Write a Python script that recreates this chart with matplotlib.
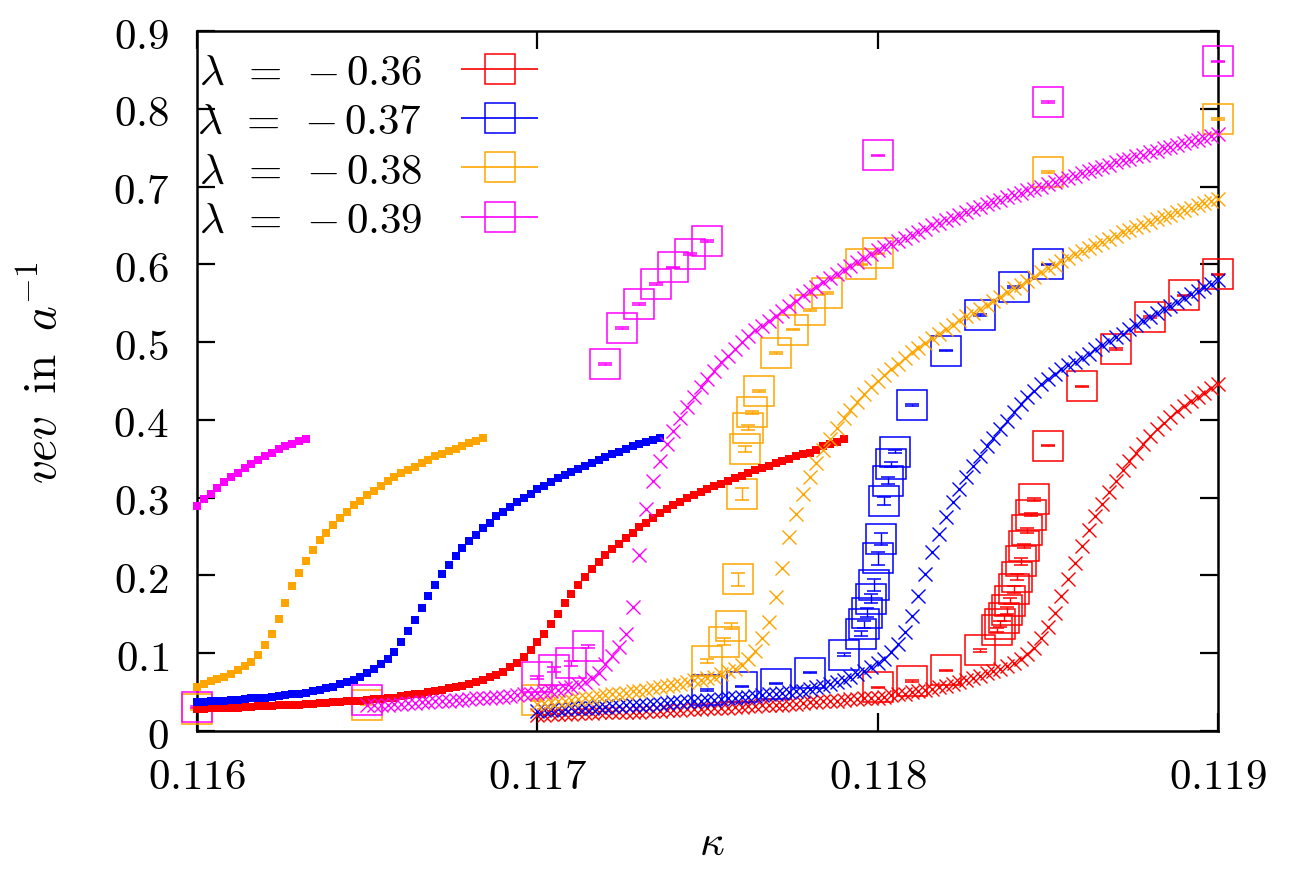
"""vev versus kappa for four quartic couplings lambda.

Open squares with error bars are the measured vev, small filled squares and
crosses are the two scan branches (hot and cold start) of each coupling.
"""
import matplotlib
matplotlib.use("Agg")
import matplotlib.pyplot as plt
import numpy as np
from matplotlib.container import ErrorbarContainer
from matplotlib.legend_handler import HandlerErrorbar
from matplotlib.ticker import FuncFormatter

plt.rcParams["mathtext.fontset"] = "cm"
plt.rcParams["font.family"] = "serif"
plt.rcParams["font.serif"] = ["DejaVu Serif"]

KAPPA_STEP = 0.00002

LAMBDA_LABELS = [r"$\lambda\;\,=\;\,{-\,0.36}$", r"$\lambda\;\,=\;\,{-\,0.37}$",
                 r"$\lambda\;\,=\;\,{-\,0.38}$", r"$\lambda\;\,=\;\,{-\,0.39}$"]
COLORS = ["#ff0000", "#0000ff", "#ffa500", "#ff00ff"]

X_TICKS = [0.116, 0.117, 0.118, 0.119]
Y_TICKS = [0.0, 0.1, 0.2, 0.3, 0.4, 0.5, 0.6, 0.7, 0.8, 0.9]

# ---- measured points (open squares with error bars) ----
SQ_KAPPA_036 = [0.1180, 0.1181, 0.1182, 0.1183, 0.11835, 0.11836, 0.11837, 0.11838,
                0.11839, 0.1184, 0.11841, 0.11842, 0.11843, 0.11844, 0.11845, 0.11846,
                0.1185, 0.1186, 0.1187, 0.1188, 0.1189, 0.1190]
SQ_VEV_036 = [0.056, 0.064, 0.078, 0.104, 0.130, 0.138, 0.145, 0.155,
              0.167, 0.182, 0.198, 0.218, 0.238, 0.258, 0.278, 0.298,
              0.367, 0.443, 0.491, 0.532, 0.560, 0.587]
SQ_ERR_036 = [0.001, 0.001, 0.001, 0.002, 0.003, 0.004, 0.004, 0.005,
              0.004, 0.005, 0.004, 0.004, 0.003, 0.003, 0.002, 0.002,
              0.001, 0.001, 0.001, 0.001, 0.001, 0.001]

SQ_KAPPA_037 = [0.1175, 0.1176, 0.1177, 0.1178, 0.1179, 0.11795, 0.11796, 0.11797,
                0.11798, 0.11799, 0.1180, 0.11801, 0.11802, 0.11803, 0.11804, 0.11805,
                0.1181, 0.1182, 0.1183, 0.1184, 0.1185]
SQ_VEV_037 = [0.053, 0.057, 0.061, 0.075, 0.098, 0.125, 0.137, 0.152,
              0.170, 0.188, 0.222, 0.247, 0.296, 0.322, 0.343, 0.359,
              0.419, 0.489, 0.535, 0.571, 0.600]
SQ_ERR_037 = [0.001, 0.001, 0.001, 0.001, 0.002, 0.003, 0.004, 0.006,
              0.006, 0.008, 0.008, 0.008, 0.005, 0.004, 0.003, 0.002,
              0.001, 0.001, 0.001, 0.001, 0.001]

SQ_KAPPA_038 = [0.1160, 0.1165, 0.1170, 0.1175, 0.11755, 0.11757, 0.11759, 0.1176,
                0.11761, 0.11762, 0.11763, 0.11765, 0.1177, 0.11775, 0.1178, 0.11785,
                0.11795, 0.1180, 0.1185, 0.1190]
SQ_VEV_038 = [0.028, 0.034, 0.040, 0.090, 0.115, 0.135, 0.195, 0.305,
              0.363, 0.390, 0.410, 0.437, 0.486, 0.516, 0.541, 0.563,
              0.600, 0.614, 0.719, 0.787]
SQ_ERR_038 = [0.001, 0.001, 0.001, 0.003, 0.004, 0.004, 0.008, 0.008,
              0.004, 0.003, 0.002, 0.001, 0.001, 0.001, 0.001, 0.001,
              0.001, 0.001, 0.001, 0.001]

SQ_KAPPA_039 = [0.1160, 0.1165, 0.1170, 0.11705, 0.1171, 0.11715, 0.1172, 0.11725,
                0.1173, 0.11735, 0.1174, 0.11745, 0.1175, 0.1180, 0.1185, 0.1190]
SQ_VEV_039 = [0.031, 0.040, 0.069, 0.079, 0.087, 0.109, 0.472, 0.518,
              0.549, 0.575, 0.596, 0.613, 0.630, 0.740, 0.809, 0.861]
SQ_ERR_039 = [0.001, 0.001, 0.002, 0.003, 0.003, 0.002, 0.001, 0.001,
              0.001, 0.001, 0.001, 0.001, 0.001, 0.001, 0.001, 0.001]

# ---- scan branch starting from kappa = 0.116 (small filled squares) ----
FILL_START = 0.116
FILL_VEV_036 = [
    0.028, 0.028, 0.029, 0.029, 0.030, 0.030, 0.030, 0.031, 0.031, 0.032,
    0.032, 0.032, 0.033, 0.033, 0.034, 0.034, 0.035, 0.035, 0.036, 0.036,
    0.037, 0.037, 0.038, 0.038, 0.039, 0.040, 0.041, 0.041, 0.042, 0.043,
    0.045, 0.046, 0.047, 0.048, 0.050, 0.051, 0.053, 0.055, 0.056, 0.058,
    0.060, 0.063, 0.066, 0.069, 0.072, 0.076, 0.082, 0.088, 0.095, 0.104,
    0.114, 0.125, 0.138, 0.151, 0.164, 0.176, 0.188, 0.198, 0.208, 0.217,
    0.226, 0.234, 0.241, 0.248, 0.255, 0.262, 0.268, 0.274, 0.280, 0.285,
    0.290, 0.295, 0.299, 0.303, 0.307, 0.311, 0.315, 0.318, 0.322, 0.325,
    0.328, 0.332, 0.335, 0.338, 0.341, 0.344, 0.347, 0.350, 0.353, 0.356,
    0.358, 0.361, 0.366, 0.369, 0.372, 0.375]
FILL_VEV_037 = [
    0.037, 0.037, 0.038, 0.038, 0.039, 0.040, 0.040, 0.041, 0.042, 0.042,
    0.043, 0.044, 0.045, 0.046, 0.047, 0.048, 0.049, 0.051, 0.053, 0.055,
    0.057, 0.060, 0.063, 0.066, 0.070, 0.075, 0.080, 0.086, 0.093, 0.102,
    0.114, 0.128, 0.143, 0.158, 0.174, 0.188, 0.202, 0.214, 0.225, 0.235,
    0.244, 0.252, 0.261, 0.268, 0.276, 0.282, 0.288, 0.294, 0.299, 0.305,
    0.311, 0.315, 0.320, 0.325, 0.329, 0.333, 0.337, 0.341, 0.345, 0.349,
    0.352, 0.356, 0.359, 0.362, 0.366, 0.369, 0.372, 0.374, 0.377]
FILL_VEV_038 = [
    0.056, 0.060, 0.064, 0.067, 0.070, 0.073, 0.078, 0.083, 0.089, 0.098,
    0.110, 0.125, 0.144, 0.165, 0.186, 0.203, 0.219, 0.233, 0.245, 0.255,
    0.265, 0.274, 0.282, 0.290, 0.296, 0.303, 0.309, 0.315, 0.321, 0.326,
    0.332, 0.336, 0.340, 0.344, 0.349, 0.353, 0.356, 0.360, 0.363, 0.367,
    0.370, 0.373, 0.377]
FILL_VEV_039 = [
    0.289, 0.298, 0.305, 0.313, 0.320, 0.326, 0.332, 0.338, 0.343, 0.348,
    0.353, 0.357, 0.362, 0.366, 0.369, 0.373, 0.376]

# ---- scan branch ending at kappa = 0.119 (crosses) ----
CROSS_START_036 = 0.1170
CROSS_VEV_036 = [
    0.021, 0.021, 0.022, 0.022, 0.022, 0.022, 0.023, 0.023, 0.023, 0.024,
    0.024, 0.024, 0.025, 0.025, 0.025, 0.025, 0.026, 0.026, 0.026, 0.027,
    0.027, 0.027, 0.028, 0.028, 0.028, 0.029, 0.029, 0.030, 0.030, 0.031,
    0.031, 0.032, 0.032, 0.033, 0.033, 0.034, 0.034, 0.035, 0.035, 0.036,
    0.037, 0.037, 0.038, 0.039, 0.039, 0.040, 0.041, 0.041, 0.042, 0.043,
    0.043, 0.044, 0.046, 0.047, 0.048, 0.050, 0.051, 0.053, 0.054, 0.056,
    0.058, 0.060, 0.063, 0.065, 0.068, 0.071, 0.074, 0.077, 0.080, 0.084,
    0.088, 0.093, 0.099, 0.107, 0.119, 0.134, 0.152, 0.174, 0.195, 0.216,
    0.238, 0.259, 0.277, 0.292, 0.307, 0.322, 0.335, 0.347, 0.358, 0.369,
    0.379, 0.388, 0.396, 0.404, 0.411, 0.418, 0.424, 0.430, 0.435, 0.441,
    0.446]
CROSS_START_037 = 0.1170
CROSS_VEV_037 = [
    0.026, 0.027, 0.027, 0.028, 0.028, 0.029, 0.029, 0.030, 0.030, 0.031,
    0.031, 0.032, 0.032, 0.033, 0.033, 0.034, 0.034, 0.035, 0.035, 0.036,
    0.037, 0.037, 0.038, 0.038, 0.039, 0.040, 0.040, 0.041, 0.042, 0.043,
    0.044, 0.044, 0.045, 0.046, 0.047, 0.048, 0.049, 0.050, 0.051, 0.052,
    0.054, 0.056, 0.058, 0.060, 0.063, 0.066, 0.069, 0.073, 0.077, 0.082,
    0.087, 0.093, 0.101, 0.112, 0.127, 0.148, 0.174, 0.202, 0.230, 0.253,
    0.275, 0.294, 0.311, 0.326, 0.341, 0.354, 0.367, 0.377, 0.388, 0.399,
    0.410, 0.420, 0.429, 0.437, 0.446, 0.453, 0.459, 0.465, 0.470, 0.475,
    0.480, 0.485, 0.491, 0.496, 0.501, 0.506, 0.511, 0.517, 0.522, 0.527,
    0.532, 0.537, 0.542, 0.547, 0.552, 0.557, 0.562, 0.566, 0.571, 0.575,
    0.580]
CROSS_START_038 = 0.1170
CROSS_VEV_038 = [
    0.035, 0.036, 0.037, 0.038, 0.039, 0.040, 0.041, 0.042, 0.043, 0.045,
    0.046, 0.047, 0.048, 0.049, 0.051, 0.052, 0.053, 0.055, 0.056, 0.058,
    0.059, 0.061, 0.063, 0.065, 0.066, 0.068, 0.070, 0.073, 0.077, 0.080,
    0.085, 0.093, 0.103, 0.119, 0.140, 0.172, 0.210, 0.249, 0.279, 0.305,
    0.326, 0.344, 0.361, 0.376, 0.390, 0.402, 0.413, 0.423, 0.433, 0.442,
    0.450, 0.458, 0.465, 0.472, 0.480, 0.487, 0.493, 0.499, 0.505, 0.511,
    0.517, 0.522, 0.528, 0.533, 0.538, 0.543, 0.548, 0.553, 0.558, 0.564,
    0.569, 0.574, 0.579, 0.584, 0.590, 0.595, 0.599, 0.604, 0.608, 0.613,
    0.617, 0.621, 0.625, 0.629, 0.633, 0.637, 0.641, 0.644, 0.648, 0.651,
    0.655, 0.658, 0.661, 0.664, 0.667, 0.670, 0.673, 0.676, 0.679, 0.681,
    0.684]
CROSS_START_039 = 0.1165
CROSS_VEV_039 = [
    0.033, 0.033, 0.034, 0.034, 0.035, 0.035, 0.036, 0.036, 0.037, 0.037,
    0.038, 0.038, 0.039, 0.040, 0.040, 0.041, 0.042, 0.042, 0.043, 0.044,
    0.044, 0.045, 0.046, 0.047, 0.048, 0.049, 0.050, 0.052, 0.053, 0.055,
    0.057, 0.060, 0.063, 0.068, 0.075, 0.086, 0.097, 0.108, 0.125, 0.159,
    0.226, 0.285, 0.321, 0.347, 0.369, 0.386, 0.402, 0.416, 0.429, 0.442,
    0.452, 0.463, 0.474, 0.482, 0.491, 0.500, 0.508, 0.515, 0.521, 0.527,
    0.534, 0.540, 0.547, 0.553, 0.560, 0.566, 0.571, 0.577, 0.582, 0.588,
    0.593, 0.598, 0.603, 0.608, 0.613, 0.618, 0.622, 0.626, 0.630, 0.634,
    0.638, 0.642, 0.646, 0.650, 0.653, 0.657, 0.660, 0.664, 0.667, 0.671,
    0.674, 0.677, 0.680, 0.683, 0.686, 0.689, 0.692, 0.695, 0.697, 0.700,
    0.703, 0.706, 0.709, 0.711, 0.714, 0.717, 0.720, 0.723, 0.725, 0.728,
    0.731, 0.734, 0.736, 0.739, 0.741, 0.744, 0.746, 0.749, 0.751, 0.754,
    0.756, 0.758, 0.760, 0.762, 0.765, 0.767]


def scan_kappa(start, values):
    """kappa values of a scan that runs in steps of KAPPA_STEP from start."""
    return start + KAPPA_STEP * np.arange(len(values))


square_sets = [
    (SQ_KAPPA_036, SQ_VEV_036, SQ_ERR_036),
    (SQ_KAPPA_037, SQ_VEV_037, SQ_ERR_037),
    (SQ_KAPPA_038, SQ_VEV_038, SQ_ERR_038),
    (SQ_KAPPA_039, SQ_VEV_039, SQ_ERR_039),
]
fill_sets = [FILL_VEV_036, FILL_VEV_037, FILL_VEV_038, FILL_VEV_039]
cross_sets = [
    (CROSS_START_036, CROSS_VEV_036),
    (CROSS_START_037, CROSS_VEV_037),
    (CROSS_START_038, CROSS_VEV_038),
    (CROSS_START_039, CROSS_VEV_039),
]

FS = 31
SQ_MS = 21
CAPSIZE = 5.2

fig = plt.figure(figsize=(13.15, 8.70), dpi=100)
ax = fig.add_axes([0.1498, 0.1586, 0.7764, 0.8046])

for (ks, vs, es), color in zip(square_sets, COLORS):
    ax.errorbar(ks, vs, yerr=es, fmt="s", ms=SQ_MS, mfc="none", mec=color, mew=1.1,
                ecolor=color, elinewidth=1.0, capsize=CAPSIZE, capthick=1.6,
                clip_on=False, zorder=3)

for vs, color in zip(fill_sets, COLORS):
    ax.plot(scan_kappa(FILL_START, vs), vs, "s", ms=5.5, mew=0, color=color,
            clip_on=False, zorder=4)

for (start, vs), color in zip(cross_sets, COLORS):
    ax.plot(scan_kappa(start, vs), vs, "x", ms=10.5, mew=1.0, color=color,
            clip_on=False, zorder=5)

ax.set_xlim(X_TICKS[0], X_TICKS[-1])
ax.set_ylim(Y_TICKS[0], Y_TICKS[-1])
ax.set_xticks(X_TICKS)
ax.set_yticks(Y_TICKS)
ax.xaxis.set_major_formatter(FuncFormatter(lambda v, _: f"${v:.3f}$"))
ax.yaxis.set_major_formatter(FuncFormatter(lambda v, _: f"${round(v, 1):g}$"))
ax.tick_params(which="both", direction="in", length=13, width=1.6,
               top=True, right=True, labelsize=FS)
ax.tick_params(axis="x", pad=17)
ax.tick_params(axis="y", pad=20)
for spine in ax.spines.values():
    spine.set_linewidth(1.8)

ax.set_xlabel(r"$\kappa$", fontsize=FS)
ax.set_ylabel(r"$vev\;\;\mathrm{in}\;\;a^{-1}$", fontsize=34)
ax.xaxis.set_label_coords(0.504, -0.128)
ax.yaxis.set_label_coords(-0.127, 0.513)

# legend samples: square with a horizontal bar, as in the key of the scan plots
handles = []
for color in COLORS:
    h = ax.errorbar([], [], xerr=[], fmt="s", ms=SQ_MS, mfc="none", mec=color,
                    mew=1.1, ecolor=color, elinewidth=1.2, capsize=CAPSIZE * 1.6,
                    capthick=1.2)
    handles.append(h)
ax.legend(handles, LAMBDA_LABELS, loc="upper left", bbox_to_anchor=(-0.006, 0.981),
          fontsize=FS, frameon=False, markerfirst=False, numpoints=1,
          handlelength=1.8, handletextpad=0.9, labelspacing=0.17,
          borderaxespad=0.0, borderpad=0.15,
          handler_map={ErrorbarContainer: HandlerErrorbar(xerr_size=0.9)})

fig.savefig("out.png", dpi=100)
